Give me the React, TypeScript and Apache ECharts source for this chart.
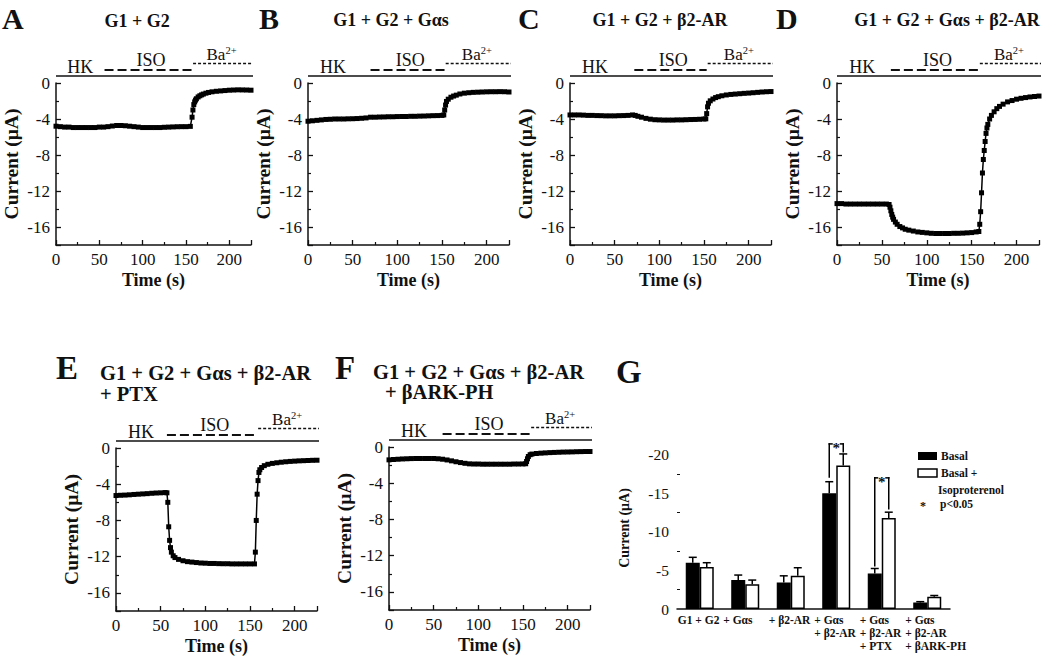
import React, { useEffect, useRef } from "react";
import * as echarts from "echarts";

const FONT = '"Liberation Serif", "Times New Roman", serif';

// ---- Data: current traces (time s, current µA) ----
const traceA: number[][] = [[0,-4.8],[5,-4.85],[10,-4.9],[15,-4.9],[20,-4.95],[25,-4.95],[30,-4.95],[35,-4.95],[40,-4.95],[45,-4.95],[50,-4.9],[55,-4.9],[60,-4.85],[65,-4.78],[70,-4.72],[75,-4.72],[80,-4.75],[85,-4.8],[90,-4.85],[95,-4.9],[100,-4.95],[105,-4.95],[110,-4.95],[115,-4.95],[120,-4.95],[125,-4.92],[130,-4.9],[135,-4.88],[140,-4.86],[145,-4.85],[150,-4.85],[155,-4.82],[157,-3.8],[158,-3.0],[159,-2.4],[160,-2.1],[161,-1.9],[162,-1.75],[164,-1.55],[166,-1.42],[168,-1.32],[170,-1.23],[173,-1.13],[176,-1.05],[180,-0.98],[185,-0.92],[190,-0.88],[195,-0.84],[200,-0.8],[205,-0.78],[210,-0.76],[215,-0.77],[220,-0.78],[225,-0.8]];
const traceB: number[][] = [[0,-4.25],[5,-4.2],[10,-4.15],[15,-4.1],[20,-4.05],[25,-4.03],[30,-4.0],[35,-4.0],[40,-4.0],[45,-3.98],[50,-3.97],[55,-3.95],[60,-3.92],[65,-3.88],[70,-3.8],[75,-3.8],[80,-3.78],[85,-3.77],[90,-3.75],[95,-3.75],[100,-3.73],[105,-3.72],[110,-3.72],[115,-3.7],[120,-3.7],[125,-3.68],[130,-3.67],[135,-3.65],[140,-3.63],[145,-3.62],[150,-3.6],[152,-3.55],[153,-3.0],[154,-2.45],[155,-2.05],[157,-1.8],[160,-1.58],[163,-1.45],[166,-1.35],[170,-1.22],[175,-1.13],[180,-1.08],[185,-1.04],[190,-1.02],[195,-1.0],[200,-0.98],[205,-0.97],[210,-0.97],[215,-0.96],[220,-0.97],[225,-1.0]];
const traceC: number[][] = [[0,-3.55],[5,-3.55],[10,-3.55],[15,-3.57],[20,-3.6],[25,-3.6],[30,-3.62],[35,-3.63],[40,-3.65],[45,-3.65],[50,-3.65],[55,-3.63],[60,-3.62],[65,-3.6],[70,-3.55],[73,-3.6],[76,-3.7],[80,-3.8],[85,-3.93],[90,-4.02],[95,-4.08],[100,-4.1],[105,-4.12],[110,-4.12],[115,-4.12],[120,-4.1],[125,-4.1],[130,-4.08],[135,-4.06],[140,-4.05],[145,-4.03],[150,-4.0],[152,-3.98],[153,-3.4],[154,-2.65],[155,-2.25],[157,-1.98],[160,-1.78],[163,-1.62],[166,-1.52],[170,-1.42],[175,-1.33],[180,-1.27],[185,-1.23],[190,-1.19],[195,-1.15],[200,-1.12],[205,-1.08],[210,-1.04],[215,-1.0],[220,-0.97],[225,-0.95]];
const traceD: number[][] = [[0,-13.4],[5,-13.4],[10,-13.45],[15,-13.45],[20,-13.45],[25,-13.45],[30,-13.45],[35,-13.45],[40,-13.45],[45,-13.45],[50,-13.45],[55,-13.45],[58,-13.5],[59,-13.8],[60,-14.2],[61,-14.6],[62,-14.9],[63,-15.15],[65,-15.45],[67,-15.7],[70,-15.95],[73,-16.1],[76,-16.25],[80,-16.35],[85,-16.45],[90,-16.55],[95,-16.6],[100,-16.65],[105,-16.7],[110,-16.72],[115,-16.72],[120,-16.72],[125,-16.72],[130,-16.7],[135,-16.7],[140,-16.68],[145,-16.65],[150,-16.62],[155,-16.55],[158,-16.5],[159,-15.7],[160,-14.3],[161,-12.2],[162,-10.0],[163,-8.5],[164,-7.5],[165,-6.5],[166,-5.6],[167,-5.0],[168,-4.6],[170,-4.0],[172,-3.6],[175,-3.2],[178,-2.85],[181,-2.6],[185,-2.35],[190,-2.1],[195,-1.95],[200,-1.8],[205,-1.7],[210,-1.62],[215,-1.55],[220,-1.5],[225,-1.45]];
const traceE: number[][] = [[0,-5.25],[5,-5.22],[10,-5.2],[15,-5.17],[20,-5.13],[25,-5.1],[30,-5.07],[35,-5.04],[40,-5.0],[45,-4.97],[50,-4.95],[55,-4.92],[57,-4.95],[58,-6.0],[59,-8.7],[60,-10.2],[61,-11.0],[62,-11.5],[64,-11.9],[66,-12.1],[70,-12.3],[75,-12.45],[80,-12.55],[85,-12.6],[90,-12.65],[95,-12.7],[100,-12.72],[105,-12.75],[110,-12.75],[115,-12.77],[120,-12.78],[125,-12.78],[130,-12.8],[135,-12.8],[140,-12.8],[145,-12.8],[150,-12.8],[155,-12.8],[156,-11.5],[157,-8.0],[158,-5.1],[159,-3.6],[160,-2.7],[161,-2.4],[163,-2.15],[166,-1.95],[170,-1.8],[175,-1.7],[180,-1.63],[185,-1.57],[190,-1.52],[195,-1.48],[200,-1.45],[205,-1.42],[210,-1.4],[215,-1.38],[220,-1.36],[225,-1.35]];
const traceF: number[][] = [[0,-1.42],[5,-1.38],[10,-1.35],[15,-1.32],[20,-1.3],[25,-1.28],[30,-1.27],[35,-1.27],[40,-1.27],[45,-1.27],[50,-1.27],[55,-1.3],[60,-1.35],[65,-1.43],[70,-1.53],[75,-1.63],[80,-1.72],[85,-1.8],[90,-1.86],[95,-1.88],[100,-1.88],[105,-1.9],[110,-1.9],[115,-1.9],[120,-1.9],[125,-1.9],[130,-1.9],[135,-1.9],[140,-1.88],[145,-1.88],[150,-1.87],[153,-1.85],[154,-1.6],[155,-1.3],[156,-1.05],[158,-0.85],[160,-0.78],[165,-0.72],[170,-0.68],[175,-0.65],[180,-0.62],[185,-0.6],[190,-0.58],[195,-0.56],[200,-0.55],[205,-0.54],[210,-0.52],[215,-0.51],[220,-0.5],[225,-0.5]];

const traces = [traceA, traceB, traceC, traceD, traceE, traceF];
const panelLetters = ["A", "B", "C", "D", "E", "F", "G"];
const panelTitles = [
  ["G1 + G2"],
  ["G1 + G2 + Gαs"],
  ["G1 + G2 + β2-AR"],
  ["G1 + G2 + Gαs + β2-AR"],
  ["G1 + G2 + Gαs + β2-AR", "+ PTX"],
  ["G1 + G2 + Gαs + β2-AR", "+ βARK-PH"],
];
// solution-change times (s): HK -> ISO -> Ba2+
const isoStart = [56, 70, 72, 60, 57, 60];
const baStart = [157, 153, 153, 158, 158, 158];
const timeMax = 225;

// ---- Panel G: summary bars (magnitude of current, µA; axis shows negative) ----
const gCategories = ["G1 + G2", "+ Gαs", "+ β2-AR", "+ Gαs\n+ β2-AR", "+ Gαs\n+ β2-AR\n+ PTX", "+ Gαs\n+ β2-AR\n+ βARK-PH"];
const basalMean = [6.0, 3.75, 3.45, 15.0, 4.6, 0.85];
const basalSem = [0.7, 0.65, 0.85, 1.5, 0.65, 0.1];
const isoMean = [5.45, 3.2, 4.3, 18.6, 11.8, 1.6];
const isoSem = [0.55, 0.55, 1.05, 1.5, 0.75, 0.15];
// [category, left foot, right foot, top]
const sigBrackets = [[3, 17.0, 20.3, 21.4], [4, 5.5, 12.9, 17.0]];

// ---- Layout ----
const traceGrids = [
  { left: 50, top: 83, width: 201, height: 162 },
  { left: 308, top: 83, width: 201, height: 162 },
  { left: 570, top: 83, width: 201, height: 162 },
  { left: 837, top: 83, width: 202, height: 162 },
  { left: 116, top: 448, width: 201, height: 163 },
  { left: 389, top: 447, width: 201, height: 163 },
];
const gGrid = { left: 677, top: 447, width: 273, height: 162 };
const letterPos = [[2, 18, 30], [259, 18, 30], [518, 18, 30], [776, 18, 30], [56, 368, 33], [335, 368, 33], [616, 372, 33]];
const titlePos = [
  { x: 137, y: 21, align: "center", size: 18, dy: 0, dx2: 0 },
  { x: 391, y: 20, align: "center", size: 18, dy: 0, dx2: 0 },
  { x: 660, y: 20, align: "center", size: 18, dy: 0, dx2: 0 },
  { x: 947, y: 20, align: "center", size: 18, dy: 0, dx2: 0 },
  { x: 100, y: 373, align: "left", size: 20.5, dy: 21, dx2: 0 },
  { x: 373, y: 372, align: "left", size: 20.5, dy: 20, dx2: 12 },
];

const BLACK = "#111";

function buildOption(): any {
  const grids: any[] = [...traceGrids, gGrid].map((g) => ({ ...g, containLabel: false }));
  const xAxes: any[] = traces.map((_, i) => ({
    gridIndex: i,
    type: "value",
    min: 0,
    max: timeMax,
    interval: 50,
    name: "Time (s)",
    nameLocation: "middle",
    nameGap: 26,
    nameTextStyle: { fontFamily: FONT, fontWeight: "bold", fontSize: 18, color: BLACK },
    axisLine: { onZero: false, lineStyle: { color: BLACK, width: 1.5 } },
    axisTick: { inside: true, length: 5, lineStyle: { color: BLACK, width: 1.3 } },
    minorTick: { show: true, splitNumber: 2, length: 3, lineStyle: { color: BLACK, width: 1.2 } },
    splitLine: { show: false },
    axisLabel: {
      fontFamily: FONT, fontSize: 17, color: BLACK, margin: 6,
      formatter: (v: number) => (v % 50 === 0 ? String(v) : ""),
    },
  }));
  const yAxes: any[] = traces.map((_, i) => ({
    gridIndex: i,
    type: "value",
    inverse: true,
    min: 0,
    max: 18,
    interval: 4,
    name: "Current (μA)",
    nameLocation: "middle",
    nameRotate: 90,
    nameGap: 35,
    nameTextStyle: { fontFamily: FONT, fontWeight: "bold", fontSize: 19.5, color: BLACK },
    axisLine: { onZero: false, lineStyle: { color: BLACK, width: 1.5 } },
    axisTick: { inside: true, length: 5, lineStyle: { color: BLACK, width: 1.3 } },
    minorTick: { show: true, splitNumber: 2, length: 3, lineStyle: { color: BLACK, width: 1.2 } },
    splitLine: { show: false },
    axisLabel: {
      fontFamily: FONT, fontSize: 17, color: BLACK, margin: 6,
      formatter: (v: number) => (v === 0 ? "0" : v % 4 === 0 ? "-" + v : ""),
    },
  }));
  xAxes.push({
    gridIndex: 6,
    type: "category",
    data: gCategories,
    axisLine: { lineStyle: { color: BLACK, width: 1.5 } },
    axisTick: { show: false },
    axisLabel: {
      interval: 0,
      margin: 4,
      formatter: (v: string) => v.split("\n").map((l) => `{l|${l}}`).join("\n"),
      rich: { l: { width: 44, align: "left", fontFamily: FONT, fontWeight: "bold", fontSize: 11.5, lineHeight: 13.3, color: BLACK } },
    },
  });
  yAxes.push({
    gridIndex: 6,
    type: "value",
    min: 0,
    max: 21,
    interval: 5,
    name: "Current (μA)",
    nameLocation: "middle",
    nameRotate: 90,
    nameGap: 46,
    nameTextStyle: { fontFamily: FONT, fontWeight: "bold", fontSize: 14, color: BLACK },
    axisLine: { onZero: false, lineStyle: { color: BLACK, width: 1.5 } },
    axisTick: { inside: true, length: 4, lineStyle: { color: BLACK, width: 1.2 } },
    minorTick: { show: true, splitNumber: 2, length: 3, lineStyle: { color: BLACK, width: 1 } },
    splitLine: { show: false },
    axisLabel: {
      fontFamily: FONT, fontSize: 15.5, color: BLACK, margin: 8,
      formatter: (v: number) => (v === 0 ? "0" : v % 5 === 0 ? "-" + v : ""),
    },
  });

  const series: any[] = traces.map((tr, i) => ({
    type: "line",
    xAxisIndex: i,
    yAxisIndex: i,
    data: tr.map(([t, v]) => [t, -v]),
    symbol: "rect",
    symbolSize: 5,
    showAllSymbol: true,
    lineStyle: { color: "#000", width: 1.5 },
    itemStyle: { color: "#000" },
    silent: true,
  }));

  series.push({
    name: "Basal", type: "bar", xAxisIndex: 6, yAxisIndex: 6, barWidth: 14, barGap: "0%",
    data: basalMean, itemStyle: { color: "#000", borderColor: "#000", borderWidth: 1.2 }, silent: true,
  });
  series.push({
    name: "Basal + Isoproterenol", type: "bar", xAxisIndex: 6, yAxisIndex: 6, barWidth: 14, barGap: "0%",
    data: isoMean, itemStyle: { color: "#fff", borderColor: "#000", borderWidth: 1.5 }, silent: true,
  });
  const ln = (x1: number, y1: number, x2: number, y2: number) => ({
    type: "line",
    shape: { x1, y1, x2, y2 },
    style: { stroke: "#000", lineWidth: 1.5 },
  });
  const errSeries = (means: number[], sems: number[], offset: number) => ({
    type: "custom",
    xAxisIndex: 6,
    yAxisIndex: 6,
    z: 5,
    silent: true,
    itemStyle: { color: "#000" },
    data: means.map((m, i) => [i, m, m + sems[i]]),
    renderItem: (_p: any, api: any) => {
      const b = api.coord([api.value(0), api.value(1)]);
      const t = api.coord([api.value(0), api.value(2)]);
      const x = b[0] + offset;
      return { type: "group", children: [ln(x, b[1], x, t[1]), ln(x - 4, t[1], x + 4, t[1])] };
    },
  });
  series.push(errSeries(basalMean, basalSem, -7));
  series.push(errSeries(isoMean, isoSem, 7));
  series.push({
    type: "custom",
    xAxisIndex: 6,
    yAxisIndex: 6,
    z: 6,
    silent: true,
    itemStyle: { color: "#000" },
    data: sigBrackets,
    renderItem: (_p: any, api: any) => {
      const c = api.value(0);
      const pl = api.coord([c, api.value(1)]);
      const pr = api.coord([c, api.value(2)]);
      const pt = api.coord([c, api.value(3)]);
      const xc = pl[0];
      const xl = xc - 7;
      const xr = xc + 7;
      const yT = pt[1];
      return {
        type: "group",
        children: [
          ln(xl, pl[1], xl, yT - 0.75),
          ln(xl - 0.75, yT, xc - 3.5, yT),
          ln(xc + 3.5, yT, xr + 0.75, yT),
          ln(xr, yT - 0.75, xr, pr[1]),
        ],
      };
    },
  });

  return {
    animation: false,
    backgroundColor: "#fff",
    grid: grids,
    xAxis: xAxes,
    yAxis: yAxes,
    series,
  };
}

function buildGraphics(chart: any): any[] {
  const g: any[] = [];
  const txt = (x: number, y: number, text: string, size: number, bold: boolean, align = "left", extra: any = {}) => ({
    type: "text",
    x,
    y,
    silent: true,
    style: { text, fontFamily: FONT, fontSize: size, fontWeight: bold ? "bold" : "normal", fill: BLACK, align, verticalAlign: "middle", ...extra },
  });
  // panel letters
  panelLetters.forEach((L, i) => {
    const [x, y, s] = letterPos[i];
    g.push(txt(x, y, L, s, true));
  });
  // titles
  panelTitles.forEach((lines, i) => {
    const p = titlePos[i];
    lines.forEach((line, k) => {
      g.push(txt(p.x + (k > 0 ? p.dx2 : 0), p.y + k * p.dy, line, p.size, true, p.align));
    });
  });
  // stimulus bars (HK / ISO / Ba2+) above each trace panel
  traces.forEach((_, i) => {
    const px = (t: number) => chart.convertToPixel({ gridIndex: i }, [t, 0]);
    const [x0, yTop] = px(0);
    const [xEnd] = px(timeMax);
    const [xIso] = px(isoStart[i]);
    const [xBa] = px(baStart[i]);
    const [xHK] = px(28);
    const [xIsoMid] = px((isoStart[i] + baStart[i]) / 2 + 3);
    const [xBaMid] = px((baStart[i] + timeMax) / 2);
    g.push({ type: "line", silent: true, shape: { x1: x0, y1: yTop - 7, x2: xEnd + 2, y2: yTop - 7 }, style: { stroke: BLACK, lineWidth: 1.5 } });
    g.push({ type: "line", silent: true, shape: { x1: xIso, y1: yTop - 13, x2: xBa, y2: yTop - 13 }, style: { stroke: BLACK, lineWidth: 2, lineDash: [9, 4] } });
    g.push({ type: "line", silent: true, shape: { x1: xBa + 1, y1: yTop - 19.5, x2: xEnd + 2, y2: yTop - 19.5 }, style: { stroke: BLACK, lineWidth: 1.5, lineDash: [3, 2] } });
    g.push(txt(xHK, yTop - 16, "HK", 18, false, "center"));
    g.push(txt(xIsoMid, yTop - 23, "ISO", 18, false, "center"));
    g.push({
      type: "text",
      x: xBaMid,
      y: yTop - 29,
      silent: true,
      style: {
        text: "{b|Ba}{s|2+}",
        align: "center",
        verticalAlign: "middle",
        rich: {
          b: { fontFamily: FONT, fontSize: 17, fill: BLACK, lineHeight: 19 },
          s: { fontFamily: FONT, fontSize: 10.5, fill: BLACK, verticalAlign: "top" },
        },
      },
    });
  });
  // significance stars on the brackets of panel G
  sigBrackets.forEach((b) => {
    const [x, y] = chart.convertToPixel({ gridIndex: 6 }, [b[0], b[3]]);
    g.push(txt(x, y + 4, "*", 15, true, "center"));
  });
  // Panel G legend
  g.push({ type: "rect", silent: true, shape: { x: 918, y: 452, width: 19, height: 8 }, style: { fill: "#000" } });
  g.push(txt(941, 456, "Basal", 11.5, true));
  g.push({ type: "rect", silent: true, shape: { x: 918, y: 469, width: 19, height: 8 }, style: { fill: "#fff", stroke: "#000", lineWidth: 1.5 } });
  g.push(txt(941, 473, "Basal +", 11.5, true));
  g.push(txt(938, 490, "Isoproterenol", 11.5, true));
  g.push(txt(920, 506, "*", 12, true));
  g.push(txt(940, 504, "p<0.05", 11.5, true));
  return g;
}

export default function App() {
  const ref = useRef<HTMLDivElement>(null);
  useEffect(() => {
    document.body.style.margin = "0";
    const chart = echarts.init(ref.current as HTMLDivElement, null, { renderer: "svg" });
    chart.setOption(buildOption());
    chart.setOption({ graphic: buildGraphics(chart) });
    return () => chart.dispose();
  }, []);
  return <div ref={ref} style={{ width: 1050, height: 663, background: "#fff" }} />;
}
